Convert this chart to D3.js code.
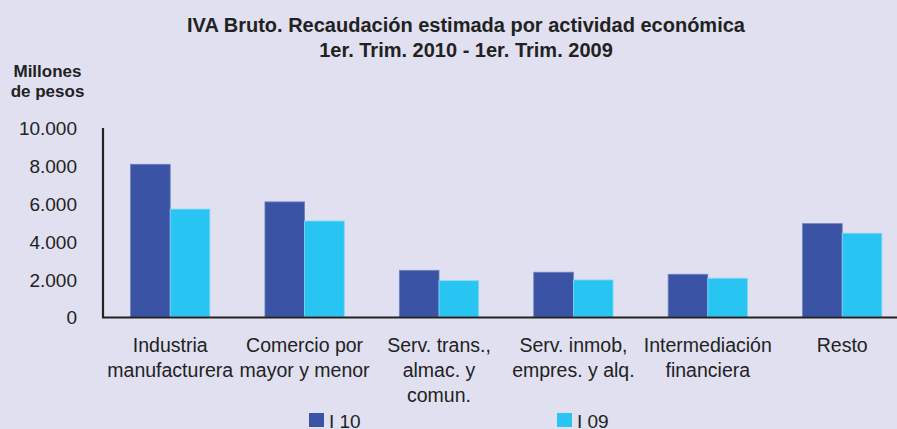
<!DOCTYPE html>
<html><head><meta charset="utf-8">
<script src="https://cdn.jsdelivr.net/npm/d3@7"></script>
<style>
html,body{margin:0;padding:0;background:#E0E0F0;}
svg{display:block;}
text{font-family:"Liberation Sans", Arial, Helvetica, sans-serif;}
</style></head>
<body>
<svg id="c" width="897" height="429"></svg>
<script>
const categories = [
  ["Industria","manufacturera"],
  ["Comercio por","mayor y menor"],
  ["Serv. trans.,","almac. y","comun."],
  ["Serv. inmob,","empres. y alq."],
  ["Intermediación","financiera"],
  ["Resto"]
];
const seriesNames = ["I 10","I 09"];
const valuesI10 = [8080, 6090, 2470, 2370, 2260, 4940];
const valuesI09 = [5710, 5080, 1920, 1960, 2050, 4430];
const yTicks = [0, 2000, 4000, 6000, 8000, 10000];
const colors = ["#3A53A4", "#28C5F3"];

const svg = d3.select("#c");
const W = 897, H = 429;
const x0 = 103, yBase = 317, yTop = 128;
const step = 134.4;

const x = d3.scaleBand().domain(d3.range(categories.length)).range([x0, x0 + 6*step]).paddingInner(0.41).paddingOuter(0.205);
const xs = d3.scaleBand().domain([0,1]).range([0, x.bandwidth()]);
const y = d3.scaleLinear().domain([0, 10000]).range([yBase, yTop]);

const fmt = d => d3.format(",")(d).replace(/,/g, ".");

// title
const title = svg.append("text").attr("text-anchor","middle")
  .attr("font-weight","bold").attr("font-size",20).attr("fill","#222");
title.append("tspan").attr("x",466).attr("y",31.5).text("IVA Bruto. Recaudación estimada por actividad económica");
title.append("tspan").attr("x",466).attr("y",56.5).text("1er. Trim. 2010 - 1er. Trim. 2009");

const ylab = svg.append("text").attr("font-weight","bold").attr("font-size",17).attr("fill","#222").attr("text-anchor","middle");
ylab.append("tspan").attr("x",47.5).attr("y",76.5).text("Millones");
ylab.append("tspan").attr("x",47.5).attr("y",96.5).text("de pesos");

// bars
const data = categories.map((c,i) => ({i, vals:[valuesI10[i], valuesI09[i]]}));
const g = svg.append("g");
data.forEach(d => {
  d.vals.forEach((v,s) => {
    g.append("rect")
      .attr("x", x(d.i) + xs(s))
      .attr("y", y(v))
      .attr("width", xs.bandwidth())
      .attr("height", yBase - y(v))
      .attr("fill", colors[s])
      .attr("stroke", s===0 ? "#6f80bf" : "#7fd8f6")
      .attr("stroke-width", 0.8);
  });
});

// y axis
const yAxis = d3.axisLeft(y).tickValues(yTicks).tickFormat(fmt).tickSize(0).tickPadding(26);
const ya = svg.append("g").attr("transform", `translate(${x0},0)`).call(yAxis);
ya.select(".domain").remove();
ya.selectAll("text").attr("font-family",null).attr("font-size",19).attr("fill","#222").attr("dy","0.36em");

// axis lines
svg.append("line").attr("x1",x0).attr("x2",x0).attr("y1",yTop).attr("y2",yBase+1).attr("stroke","#222").attr("stroke-width",2.2);
svg.append("line").attr("x1",x0-1).attr("x2",W).attr("y1",yBase+0.5).attr("y2",yBase+0.5).attr("stroke","#222").attr("stroke-width",2.2);

// category labels
categories.forEach((c,i) => {
  const t = svg.append("text").attr("text-anchor","middle")
    .attr("font-size",19.5).attr("fill","#222");
  c.forEach((line,k) => {
    t.append("tspan").attr("x", x(i) + x.bandwidth()/2).attr("y", 352.3 + k*24.6).text(line);
  });
});

// legend
const legX = [309, 557];
seriesNames.forEach((n,s) => {
  svg.append("rect").attr("x", legX[s]).attr("y", 413).attr("width", 15).attr("height", 14).attr("fill", colors[s]);
  svg.append("text").attr("x", legX[s] + 20).attr("y", 427.5)
    .attr("font-size",19).attr("fill","#222").text(n);
});
</script>
</body></html>
